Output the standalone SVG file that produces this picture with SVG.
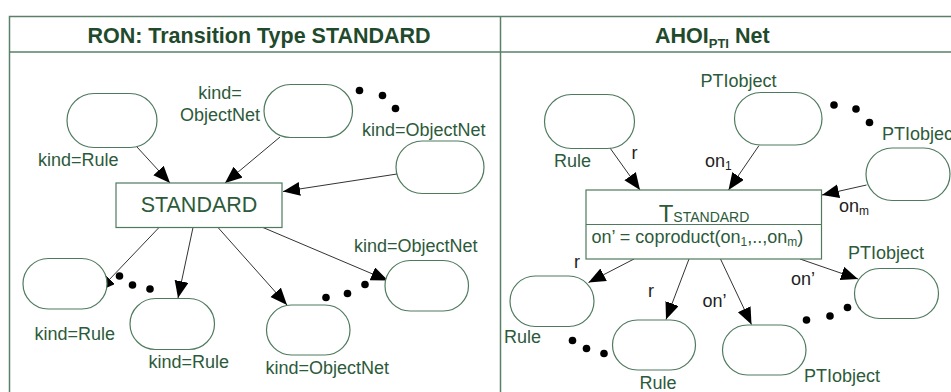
<svg xmlns="http://www.w3.org/2000/svg" width="951" height="392" viewBox="0 0 951 392">
  <style>
    .frame { fill: none; stroke: #5b806a; stroke-width: 1.5; }
    .title { font-family: "Liberation Sans", Arial, sans-serif; font-weight: bold; font-size: 21.5px; fill: #1f4a2c; }
    .place { fill: #ffffff; stroke: #4f7a5e; stroke-width: 1.2; }
    .trans { fill: #ffffff; stroke: #4f7a5e; stroke-width: 1.2; }
    .lbl { font-family: "Liberation Sans", Arial, sans-serif; font-size: 18px; fill: #2c5a3a; }
    .big { font-family: "Liberation Sans", Arial, sans-serif; font-size: 21.5px; fill: #2c5a3a; }
    .arc { font-family: "Liberation Sans", Arial, sans-serif; font-size: 18px; fill: #222222; }
    .edge { fill: none; stroke: #333333; stroke-width: 1; marker-end: url(#head); }
    .dot { fill: #000000; }
  </style>
  <defs>
    <marker id="head" markerUnits="userSpaceOnUse" markerWidth="18" markerHeight="15" refX="17" refY="7" orient="auto">
      <path d="M0,0 L17,7 L0,14 z" fill="#000000"/>
    </marker>
  </defs>

  <rect width="951" height="392" fill="#ffffff"/>

  <!-- table frame with two panels -->
  <g id="frame">
    <path class="frame" d="M9.5,392 V16.5 H951 M9.5,52 H951 M500.5,16.5 V392"/>
    <text class="title" x="259" y="43" text-anchor="middle">RON: Transition Type STANDARD</text>
    <text class="title" x="655" y="43">AHOI<tspan font-size="13" dy="5">PTI</tspan><tspan dy="-5"> Net</tspan></text>
  </g>

  <!-- connectors -->
  <g id="connectors">
    <!-- left panel -->
    <line class="edge" x1="137" y1="147" x2="170" y2="183"/>
    <line class="edge" x1="280" y1="137" x2="225" y2="183"/>
    <line class="edge" x1="397" y1="174" x2="283" y2="191.5"/>
    <line class="edge" x1="159" y1="227.5" x2="98" y2="291.5"/>
    <line class="edge" x1="193" y1="227.5" x2="178" y2="298"/>
    <line class="edge" x1="218" y1="227.5" x2="287" y2="305"/>
    <line class="edge" x1="263" y1="227.5" x2="388" y2="280.5"/>
    <!-- right panel -->
    <line class="edge" x1="610" y1="148" x2="640" y2="190"/>
    <line class="edge" x1="759" y1="145.5" x2="728.5" y2="190"/>
    <line class="edge" x1="866.5" y1="185" x2="822" y2="195"/>
    <line class="edge" x1="634" y1="259" x2="588.5" y2="282.5"/>
    <line class="edge" x1="689" y1="259" x2="666" y2="319.5"/>
    <line class="edge" x1="720.5" y1="259" x2="751.5" y2="324.5"/>
    <line class="edge" x1="800" y1="259" x2="858" y2="279"/>
  </g>

  <!-- left panel: RON transition type STANDARD -->
  <g id="ron-rule-in">
    <rect class="place" x="67" y="93.5" width="90" height="54" rx="27"/>
    <text class="lbl" x="38" y="166">kind=Rule</text>
  </g>
  <g id="ron-net-in-1">
    <rect class="place" x="264" y="84.5" width="88.5" height="53" rx="26.5"/>
    <text class="lbl" x="220" y="99" text-anchor="middle">kind=</text>
    <text class="lbl" x="220" y="120.5" text-anchor="middle">ObjectNet</text>
  </g>
  <g id="ron-net-in-m">
    <rect class="place" x="396" y="141" width="88" height="52.5" rx="26.25"/>
    <text class="lbl" x="362" y="135.5">kind=ObjectNet</text>
  </g>
  <g id="ron-dots-in">
    <circle class="dot" cx="359.5" cy="90.5" r="3.8"/>
    <circle class="dot" cx="382.5" cy="95.5" r="3.8"/>
    <circle class="dot" cx="395.5" cy="108.5" r="3.8"/>
  </g>
  <g id="ron-standard">
    <rect class="trans" x="116" y="183" width="166" height="44.5"/>
    <text class="big" x="199" y="211.5" text-anchor="middle">STANDARD</text>
  </g>
  <g id="ron-rule-out-1">
    <rect class="place" x="23" y="258.5" width="84" height="50.5" rx="25.25"/>
    <text class="lbl" x="34.5" y="340">kind=Rule</text>
  </g>
  <g id="ron-rule-out-n">
    <rect class="place" x="130" y="298.5" width="84.5" height="51" rx="25.5"/>
    <text class="lbl" x="148.5" y="368">kind=Rule</text>
  </g>
  <g id="ron-net-out-1">
    <rect class="place" x="266.5" y="305" width="83.5" height="50" rx="25"/>
    <text class="lbl" x="265.5" y="374">kind=ObjectNet</text>
  </g>
  <g id="ron-net-out-m">
    <rect class="place" x="385" y="260.5" width="83.5" height="50.5" rx="25.25"/>
    <text class="lbl" x="354" y="251.5">kind=ObjectNet</text>
  </g>
  <g id="ron-dots-out">
    <circle class="dot" cx="119.5" cy="276" r="3.8"/>
    <circle class="dot" cx="132.5" cy="285" r="3.8"/>
    <circle class="dot" cx="150" cy="289" r="3.8"/>
    <circle class="dot" cx="326" cy="297.5" r="3.8"/>
    <circle class="dot" cx="347.5" cy="293.5" r="3.8"/>
    <circle class="dot" cx="365" cy="284.5" r="3.8"/>
  </g>

  <!-- right panel: AHOI PTI net -->
  <g id="ahoi-rule-in">
    <rect class="place" x="544.5" y="94.5" width="90" height="54" rx="27"/>
    <text class="lbl" x="554" y="166.5">Rule</text>
    <text class="arc" x="631.5" y="159">r</text>
  </g>
  <g id="ahoi-pti-in-1">
    <rect class="place" x="734.5" y="92.5" width="87.5" height="52.5" rx="26.25"/>
    <text class="lbl" x="700.5" y="87">PTIobject</text>
    <text class="arc" x="705" y="166.5">on<tspan font-size="12" dy="3">1</tspan></text>
  </g>
  <g id="ahoi-pti-in-m">
    <rect class="place" x="866" y="148" width="84" height="52.5" rx="26.25"/>
    <text class="lbl" x="882" y="140">PTIobject</text>
    <text class="arc" x="839" y="211.5">on<tspan font-size="12" dy="3">m</tspan></text>
  </g>
  <g id="ahoi-dots-in">
    <circle class="dot" cx="834" cy="105" r="3.8"/>
    <circle class="dot" cx="856" cy="109" r="3.8"/>
    <circle class="dot" cx="869.5" cy="122.5" r="3.8"/>
  </g>
  <g id="ahoi-t-standard">
    <rect class="trans" x="586" y="190" width="235.5" height="69"/>
    <line class="trans" x1="586" y1="224.5" x2="821.5" y2="224.5"/>
    <text class="lbl" x="704" y="221.5" text-anchor="middle"><tspan font-size="24">T</tspan><tspan font-size="14">STANDARD</tspan></text>
    <text class="lbl" x="591.5" y="243">on’ = coproduct(on<tspan font-size="12" dy="3">1</tspan><tspan dy="-3">,..,on</tspan><tspan font-size="12" dy="3">m</tspan><tspan dy="-3">)</tspan></text>
  </g>
  <g id="ahoi-rule-out-1">
    <rect class="place" x="510" y="276" width="84" height="50.5" rx="25.25"/>
    <text class="lbl" x="504" y="343">Rule</text>
    <text class="arc" x="574" y="268">r</text>
  </g>
  <g id="ahoi-rule-out-n">
    <rect class="place" x="612.5" y="320" width="83" height="50" rx="25"/>
    <text class="lbl" x="639.5" y="388.5">Rule</text>
    <text class="arc" x="648" y="296.5">r</text>
  </g>
  <g id="ahoi-pti-out-1">
    <rect class="place" x="722.5" y="325" width="83.5" height="50" rx="25"/>
    <text class="lbl" x="804" y="382">PTIobject</text>
    <text class="arc" x="702.5" y="307">on’</text>
  </g>
  <g id="ahoi-pti-out-m">
    <rect class="place" x="854.5" y="268.5" width="84" height="50" rx="25"/>
    <text class="lbl" x="848" y="259">PTIobject</text>
    <text class="arc" x="791" y="285">on’</text>
  </g>
  <g id="ahoi-dots-out">
    <circle class="dot" cx="572.5" cy="340.5" r="3.8"/>
    <circle class="dot" cx="586.5" cy="348.5" r="3.8"/>
    <circle class="dot" cx="604" cy="353.5" r="3.8"/>
    <circle class="dot" cx="806.5" cy="320" r="3.8"/>
    <circle class="dot" cx="830" cy="316" r="3.8"/>
    <circle class="dot" cx="847.5" cy="307.5" r="3.8"/>
  </g>
</svg>
